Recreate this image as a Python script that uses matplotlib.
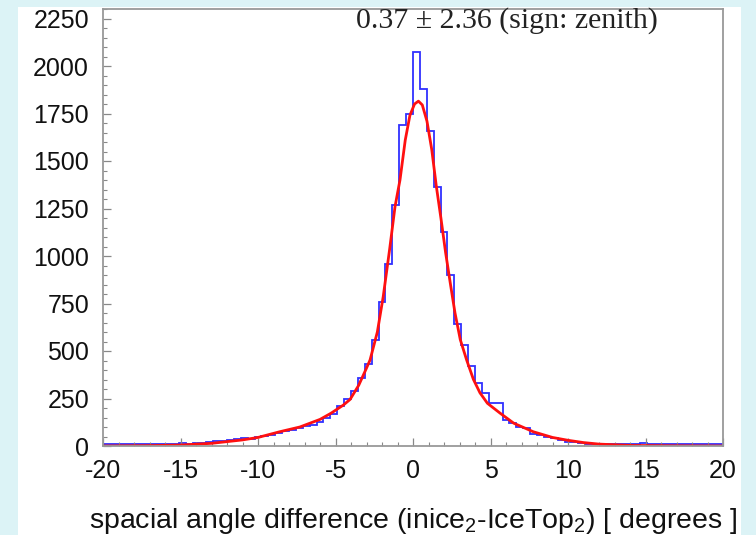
import matplotlib
matplotlib.use('Agg')
import matplotlib.pyplot as plt
import numpy as np
from matplotlib.patches import Rectangle
from matplotlib.ticker import MultipleLocator

plt.rcParams['font.family'] = ['Liberation Sans', 'DejaVu Sans']
plt.rcParams['mathtext.fontset'] = 'custom'
plt.rcParams['mathtext.rm'] = 'Liberation Sans'
plt.rcParams['mathtext.it'] = 'Liberation Sans'
plt.rcParams['axes.unicode_minus'] = False

# histogram: 90 bins over [-20, 20] degrees
bin_lo, bin_hi, n_bins = -20, 20, 90
counts = [8, 10, 9, 11, 8, 12, 10, 9, 12, 13,
          11, 14, 13, 16, 18, 22, 25, 24, 30, 36,
          40, 38, 48, 52, 58, 70, 80, 86, 95, 105,
          112, 125, 145, 170, 210, 245, 290, 360, 430, 560,
          760, 960, 1270, 1690, 1750, 2075, 1880, 1660, 1365, 1128,
          900, 640, 530, 420, 330, 280, 228, 226, 135, 120,
          102, 95, 62, 58, 48, 40, 30, 22, 20, 14,
          12, 10, 8, 10, 9, 8, 10, 12, 15, 11,
          9, 10, 8, 10, 9, 8, 10, 9, 8, 10]

# fitted curve
fit_x = [-20, -17, -15, -13, -11, -10, -8.6, -7.3, -6, -5.3, -4.5, -4.06, -3.5,
         -3.0, -2.77, -2.3, -1.92, -1.5, -1.16, -0.84, -0.5, -0.2, 0.1, 0.35,
         0.6, 0.9, 1.21, 1.5, 1.8, 2.1, 2.4, 2.71, 3.05, 3.46, 3.9, 4.32, 4.8,
         5.6, 6.5, 7.76, 9.0, 10, 11, 12, 14, 17, 20]
fit_y = [0, 2, 5, 14, 32, 45, 75, 100, 140, 172, 215, 245, 320,
         410, 453, 600, 787, 1040, 1260, 1400, 1610, 1740, 1800, 1815,
         1795, 1710, 1560, 1370, 1200, 1020, 860, 700, 560, 453, 350, 280, 225,
         174, 120, 75, 45, 30, 18, 10, 3, 1, 0]

fit_label = '0.37 \u00b1 2.36 (sign: zenith)'
x_label = 'spacial angle difference (inice$_2$-IceTop$_2$) [ degrees ]'

fig = plt.figure(figsize=(7.56, 5.35), dpi=100)
fig.patch.set_facecolor('#dcf3f6')
fig.patches.append(Rectangle((18 / 756, 0), (741 - 18) / 756, (535 - 7) / 535,
                             transform=fig.transFigure, facecolor='white',
                             edgecolor='none', zorder=-10))

ax = fig.add_axes([103 / 756, 89 / 535, 620 / 756, 437 / 535])
ax.set_facecolor('white')

edges = np.linspace(bin_lo, bin_hi, n_bins + 1)
ax.stairs(counts, edges, color='#3030ff', linewidth=1.3, baseline=None)
ax.plot(fit_x, fit_y, color='#ff1010', linewidth=2.0)

ax.set_xlim(-20, 20)
ax.set_ylim(0, 2300)
ax.xaxis.set_major_locator(MultipleLocator(5))
ax.xaxis.set_minor_locator(MultipleLocator(1))
ax.yaxis.set_major_locator(MultipleLocator(250))
ax.yaxis.set_minor_locator(MultipleLocator(50))
ax.tick_params(which='both', direction='in', color='#888888', labelsize=18,
               labelcolor='#111111')
ax.tick_params(which='major', length=6, width=0.9)
ax.tick_params(which='minor', length=3, width=0.8)
ax.tick_params(axis='x', pad=9)
ax.tick_params(axis='y', pad=10)
for s in ax.spines.values():
    s.set_color('#999999')
    s.set_linewidth(1.3)

ax.text(6.06, 2240, fit_label, ha='center', va='center', fontsize=21.5,
        family='Liberation Serif', color='#222222')
ax.set_xlabel(x_label, fontsize=20.5, labelpad=17, color='#111111')

fig.savefig('out.png', dpi=100, facecolor=fig.get_facecolor())
